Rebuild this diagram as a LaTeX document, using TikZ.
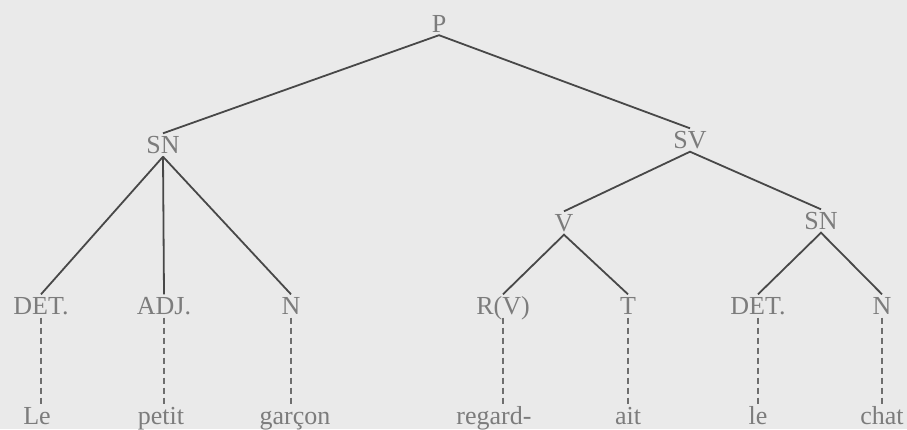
\documentclass[tikz,border=0pt]{standalone}
\usepackage{fontspec}
\setmainfont{Liberation Serif}
\usetikzlibrary{positioning}
\definecolor{paper}{HTML}{EAEAEA}
\definecolor{inkcat}{HTML}{7C7C7C}
\definecolor{inkdash}{HTML}{6E6E6E}
\definecolor{inkline}{HTML}{484848}
\tikzset{
  cat/.style={font=\fontsize{26}{30}\selectfont, text=inkcat, inner xsep=0pt, inner ysep=3pt, text height=17pt, text depth=0pt},
  branch/.style={draw=inkline, line width=1.8pt},
  lexlink/.style={draw=inkdash, line width=1.3pt, dash pattern=on 6pt off 4pt},
}
\begin{document}
\begin{tikzpicture}[x=1pt,y=-1pt]
  \fill[paper] (0,0) rectangle (907,429);
  \useasboundingbox (0,0) rectangle (907,429);
  % upper tree
  \node[cat] (P)    at (439,23.5) {P};
  \node[cat] (SN)   at (163,145)  {SN};
  \node[cat] (SV)   at (690,140)  {SV};
  \node[cat] (V)    at (564,223)  {V};
  \node[cat] (SN2)  at (821,221)  {SN};
  % categories
  \node[cat] (det)  at (41,306)   {DET.};
  \node[cat] (adj)  at (164,306)  {ADJ.};
  \node[cat] (n)    at (291,306)  {N};
  \node[cat] (rv)   at (503,306)  {R(V)};
  \node[cat] (t)    at (628,306)  {T};
  \node[cat] (det2) at (758,306)  {DET.};
  \node[cat] (n2)   at (882,306)  {N};
  % words
  \node[cat] (le)     at (37,416)  {Le};
  \node[cat] (petit)  at (161,416) {petit};
  \node[cat] (garcon) at (295,416) {garçon};
  \node[cat] (regard) at (494,416) {regard-};
  \node[cat] (ait)    at (628,416) {ait};
  \node[cat] (le2)    at (758,416) {le};
  \node[cat] (chat)   at (882,416) {chat};
  % branches
  \draw[branch] (SN.north) -- (P.south) -- (SV.north);
  \draw[branch] (SN.south) -- (det.north);
  \draw[branch] (SN.south) -- (adj.north);
  \draw[branch] (SN.south) -- (n.north);
  \draw[branch] (V.north) -- (SV.south) -- (SN2.north);
  \draw[branch] (rv.north) -- (V.south) -- (t.north);
  \draw[branch] (det2.north) -- (SN2.south) -- (n2.north);
  % lexical links
  \foreach \c/\w in {det/le, adj/petit, n/garcon, rv/regard, t/ait, det2/le2, n2/chat}
    \draw[lexlink] (\c.south) -- (\c.south |- \w.north);
\end{tikzpicture}
\end{document}
